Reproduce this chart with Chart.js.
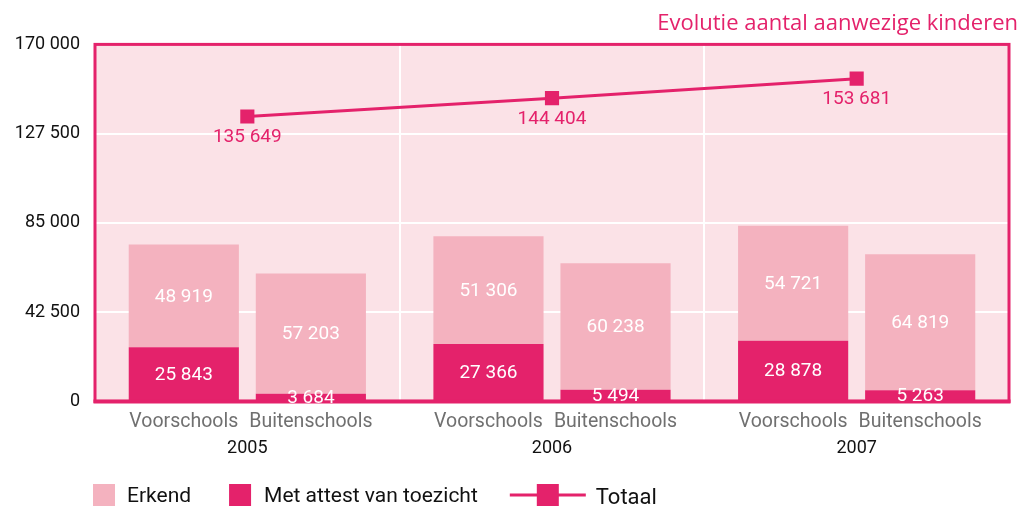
<!DOCTYPE html>
<html>
<head>
<meta charset="utf-8">
<script src="https://cdn.jsdelivr.net/npm/chart.js@4.4.1/dist/chart.umd.min.js"></script>
<style>
  html, body { margin: 0; padding: 0; background: #fff; }
  #wrap { width: 1019px; height: 509px; }
</style>
</head>
<body>
<div id="wrap"><canvas id="chart"></canvas></div>
<script>
// data
const years = ['2005', '2006', '2007'];
const subcats = ['Voorschools', 'Buitenschools'];
const voorAttest = [25843, 27366, 28878];
const voorErkend = [48919, 51306, 54721];
const buitenAttest = [3684, 5494, 5263];
const buitenErkend = [57203, 60238, 64819];
const totaal = [135649, 144404, 153681];
const yTicks = [0, 42500, 85000, 127500, 170000];

const DARK = '#e4226b';
const LIGHT = '#f4b2bf';
const PLOT_BG = '#fbe2e7';
const FONT = 'Roboto';

function fmt(n) {
    return String(n).replace(/\B(?=(\d{3})+(?!\d))/g, ' ');
}

// pink plot background
const plotBackground = {
    id: 'plotBackground',
    beforeDraw(chart) {
        const { ctx, chartArea: a } = chart;
        ctx.save();
        ctx.fillStyle = PLOT_BG;
        ctx.fillRect(a.left, a.top, a.right - a.left, a.bottom - a.top);
        ctx.restore();
    }
};

// frame, value labels, sub-category labels and legend
const decorations = {
    id: 'decorations',
    afterDatasetsDraw(chart) {
        const { ctx, chartArea: a } = chart;
        ctx.save();

        // frame
        ctx.strokeStyle = DARK;
        ctx.lineWidth = 3;
        ctx.strokeRect(a.left, a.top, a.right - a.left, a.bottom - a.top);
        ctx.lineWidth = 4;
        ctx.beginPath();
        ctx.moveTo(a.left - 1.5, a.bottom);
        ctx.lineTo(a.right + 1.5, a.bottom);
        ctx.stroke();

        // labels inside the bars
        ctx.textAlign = 'center';
        ctx.textBaseline = 'middle';
        ctx.font = '19px ' + FONT;
        ctx.fillStyle = '#ffffff';
        [0, 1, 2, 3].forEach(di => {
            const meta = chart.getDatasetMeta(di);
            const data = chart.data.datasets[di].data;
            meta.data.forEach((bar, i) => {
                ctx.fillText(fmt(data[i]), bar.x, (bar.y + bar.base) / 2 + 1);
            });
        });

        // labels under the total line
        const lineMeta = chart.getDatasetMeta(4);
        ctx.fillStyle = DARK;
        lineMeta.data.forEach((pt, i) => {
            ctx.fillText(fmt(totaal[i]), pt.x, pt.y + 21);
        });

        // sub-category names below each bar
        ctx.fillStyle = '#707070';
        ctx.font = '19.5px ' + FONT;
        [0, 2].forEach((di, k) => {
            chart.getDatasetMeta(di).data.forEach(bar => {
                ctx.fillText(subcats[k], bar.x, a.bottom + 21);
            });
        });

        // legend
        const ly = chart.height - 14;
        let x = a.left - 2;
        ctx.textAlign = 'left';
        ctx.font = '21px ' + FONT;
        ctx.fillStyle = LIGHT;
        ctx.fillRect(x, ly - 11, 22, 22);
        x += 34;
        ctx.fillStyle = '#111';
        ctx.fillText('Erkend', x, ly + 2);
        x += ctx.measureText('Erkend').width + 38;
        ctx.fillStyle = DARK;
        ctx.fillRect(x, ly - 11, 22, 22);
        x += 35;
        ctx.fillStyle = '#111';
        ctx.fillText('Met attest van toezicht', x, ly + 2);
        x += ctx.measureText('Met attest van toezicht').width + 32;
        ctx.strokeStyle = DARK;
        ctx.lineWidth = 3;
        ctx.beginPath();
        ctx.moveTo(x, ly);
        ctx.lineTo(x + 76, ly);
        ctx.stroke();
        ctx.fillStyle = DARK;
        ctx.fillRect(x + 27, ly - 11, 22, 22);
        x += 86;
        ctx.fillStyle = '#111';
        ctx.font = '22px ' + FONT;
        ctx.fillText('Totaal', x, ly + 3);

        ctx.restore();
    }
};

new Chart(document.getElementById('chart'), {
    data: {
        labels: years,
        datasets: [
            { type: 'bar', label: 'Met attest van toezicht', data: voorAttest, stack: 'voor', backgroundColor: DARK, order: 1 },
            { type: 'bar', label: 'Erkend', data: voorErkend, stack: 'voor', backgroundColor: LIGHT, order: 1 },
            { type: 'bar', label: 'Met attest van toezicht', data: buitenAttest, stack: 'buiten', backgroundColor: DARK, order: 1 },
            { type: 'bar', label: 'Erkend', data: buitenErkend, stack: 'buiten', backgroundColor: LIGHT, order: 1 },
            {
                type: 'line', label: 'Totaal', data: totaal, stack: 'totaal', order: 0,
                borderColor: DARK, borderWidth: 3, backgroundColor: DARK,
                pointStyle: 'rect', pointRadius: 10, pointBackgroundColor: DARK, pointBorderWidth: 0
            }
        ]
    },
    options: {
        responsive: true,
        maintainAspectRatio: false,
        animation: false,
        datasets: {
            bar: { categoryPercentage: 0.834, barPercentage: 0.867, borderWidth: 0 }
        },
        layout: { padding: { left: 0, right: 1, top: 0, bottom: 14 } },
        scales: {
            x: {
                type: 'category',
                stacked: true,
                offset: true,
                grid: { color: '#ffffff', lineWidth: 2, offset: true, drawTicks: false },
                border: { display: false },
                ticks: { color: '#111', font: { family: FONT, size: 18 }, padding: 36 }
            },
            y: {
                stacked: true,
                min: 0,
                max: 170000,
                afterBuildTicks(scale) {
                    scale.ticks = yTicks.map(v => ({ value: v }));
                },
                afterFit(scale) {
                    scale.width = 95;
                },
                grid: { color: '#ffffff', lineWidth: 2, drawTicks: false },
                border: { display: false },
                ticks: {
                    color: '#111',
                    font: { family: FONT, size: 18 },
                    padding: 15,
                    callback: v => fmt(v)
                }
            }
        },
        plugins: {
            legend: { display: false },
            tooltip: { enabled: false },
            title: {
                display: true,
                text: 'Evolutie aantal aanwezige kinderen',
                align: 'end',
                color: DARK,
                font: { family: 'Open Sans', size: 22, weight: 'normal' },
                padding: { top: 11, bottom: 7 }
            }
        }
    },
    plugins: [plotBackground, decorations]
});
</script>
</body>
</html>
